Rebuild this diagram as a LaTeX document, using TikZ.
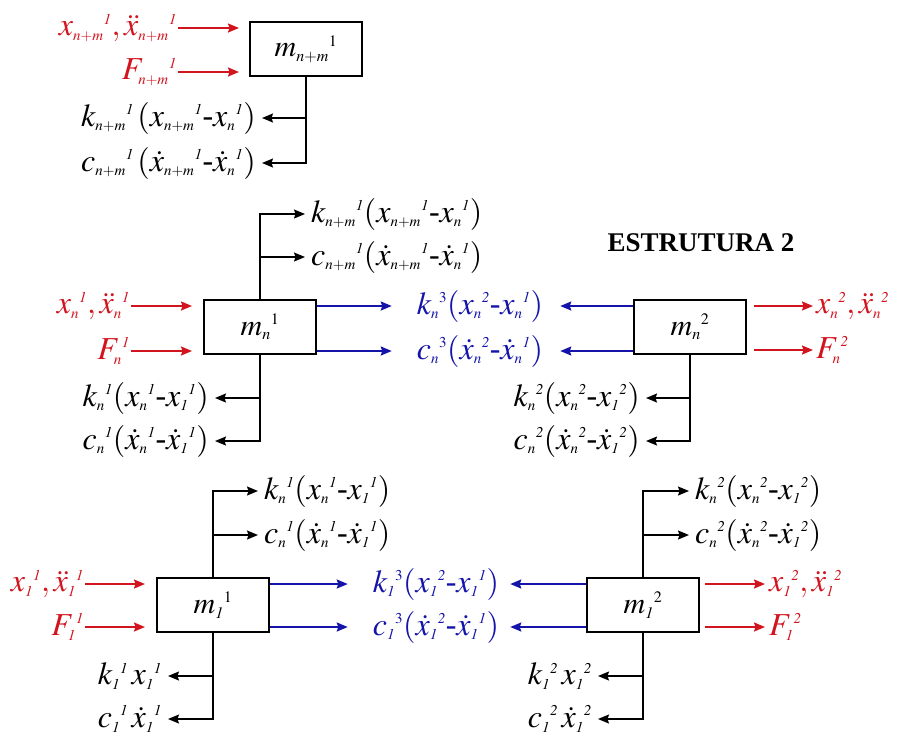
\documentclass[tikz,border=0pt]{standalone}
\usepackage{mathptmx}
\usepackage[no-math]{fontspec}
\setmainfont{Liberation Serif}
\usetikzlibrary{arrows.meta}
\DeclareMathSizes{32}{32}{15}{12}
\DeclareMathSizes{30}{30}{16}{12}
\definecolor{myred}{RGB}{210,20,30}
\definecolor{myblue}{RGB}{20,20,170}
\newcommand{\sx}[3]{#1_{#2}{}^{#3}}
\newcommand{\one}{\mathit{1}}
\newcommand{\two}{\mathit{2}}
\newcommand{\hy}{\mbox{-}}
\tikzset{
  mass/.style={draw, line width=2pt, minimum width=112pt, minimum height=54pt, inner sep=0pt, font=\fontsize{30}{36}\selectfont},
  lab/.style={inner sep=1pt, font=\fontsize{32}{36}\selectfont},
  rlab/.style={lab, text=myred},
  blab/.style={lab, text=myblue},
  tipk/.style={-{Stealth[length=11pt,width=9pt,inset=1.5pt]}},
  karr/.style={tipk, line width=1.4pt, shorten >=5pt},
  rarr/.style={tipk, draw=myred, line width=1.7pt},
  barr/.style={tipk, draw=myblue, line width=1.8pt},
  title/.style={font=\fontsize{27}{30}\selectfont\bfseries}
}
\begin{document}
\begin{tikzpicture}[x=1pt,y=-1pt]
\useasboundingbox (0,0) rectangle (901,740);
\fill[white] (0,0) rectangle (901,740);

% ---------- top group ----------
\node[mass] (mtop) at (306,49) {$\sx{m}{n+m}{1}$};
\node[rlab, anchor=east] (tx) at (178,28) {$\sx{x}{n+m}{\one},\sx{\ddot{x}}{n+m}{\one}$};
\node[rlab, anchor=east] (tF) at (178,72) {$\sx{F}{n+m}{\one}$};
\draw[rarr, shorten >=10pt] (tx.east) -- (tx.east -| mtop.west);
\draw[rarr, shorten >=10pt] (tF.east) -- (tF.east -| mtop.west);
\node[lab, anchor=east] (tk) at (257,118) {$\sx{k}{n+m}{\one}\mkern2mu(\sx{x}{n+m}{\one}\hy\sx{x}{n}{\one})$};
\node[lab, anchor=east] (tc) at (257,163) {$\sx{c}{n+m}{\one}\mkern2mu(\sx{\dot{x}}{n+m}{\one}\hy\sx{\dot{x}}{n}{\one})$};
\draw[karr] (mtop.south) |- (tc.east);
\draw[karr] (mtop.south |- tk.east) -- (tk.east);

% ---------- middle left ----------
\node[mass] (mn1) at (260,327) {$\sx{m}{n}{1}$};
\node[rlab, anchor=east] (nx1) at (131,306) {$\sx{x}{n}{\one},\sx{\ddot{x}}{n}{\one}$};
\node[rlab, anchor=east] (nF1) at (131,351) {$\sx{F}{n}{\one}$};
\draw[rarr, shorten >=11pt] (nx1.east) -- (nx1.east -| mn1.west);
\draw[rarr, shorten >=11pt] (nF1.east) -- (nF1.east -| mn1.west);
\node[lab, anchor=west] (nk1) at (310,214) {$\sx{k}{n+m}{\one}(\sx{x}{n+m}{\one}\hy\sx{x}{n}{\one})$};
\node[lab, anchor=west] (nc1) at (310,257) {$\sx{c}{n+m}{\one}(\sx{\dot{x}}{n+m}{\one}\hy\sx{\dot{x}}{n}{\one})$};
\draw[karr] (mn1.north) |- (nk1.west);
\draw[karr] (mn1.north |- nc1.west) -- (nc1.west);
\node[lab, anchor=east] (nbk1) at (210,398) {$\sx{k}{n}{\one}(\sx{x}{n}{\one}\hy\sx{x}{\one}{\one})$};
\node[lab, anchor=east] (nbc1) at (210,441) {$\sx{c}{n}{\one}(\sx{\dot{x}}{n}{\one}\hy\sx{\dot{x}}{\one}{\one})$};
\draw[karr] (mn1.south) |- (nbc1.east);
\draw[karr] (mn1.south |- nbk1.east) -- (nbk1.east);

% ---------- middle coupling ----------
\node[blab] (kn3) at (480,306) {$\sx{k}{n}{3}(\sx{x}{n}{\two}\hy\sx{x}{n}{\one})$};
\node[blab] (cn3) at (480,351) {$\sx{c}{n}{3}(\sx{\dot{x}}{n}{\two}\hy\sx{\dot{x}}{n}{\one})$};
\draw[barr, shorten >=24pt] (mn1.east |- kn3.west) -- (kn3.west);
\draw[barr, shorten >=24pt] (mn1.east |- cn3.west) -- (cn3.west);

% ---------- middle right ----------
\node[mass] (mn2) at (690,327) {$\sx{m}{n}{2}$};
\draw[barr, shorten >=16pt] (mn2.west |- kn3.east) -- (kn3.east);
\draw[barr, shorten >=16pt] (mn2.west |- cn3.east) -- (cn3.east);
\node[rlab, anchor=west] (nx2) at (815,306) {$\sx{x}{n}{\two},\sx{\ddot{x}}{n}{\two}$};
\node[rlab, anchor=west] (nF2) at (815,350) {$\sx{F}{n}{\two}$};
\draw[rarr, shorten <=7pt, shorten >=2pt] (mn2.east |- nx2.west) -- (nx2.west);
\draw[rarr, shorten <=7pt, shorten >=2pt] (mn2.east |- nF2.west) -- (nF2.west);
\node[lab, anchor=east] (nbk2) at (641,398) {$\sx{k}{n}{\two}(\sx{x}{n}{\two}\hy\sx{x}{\one}{\two})$};
\node[lab, anchor=east] (nbc2) at (641,441) {$\sx{c}{n}{\two}(\sx{\dot{x}}{n}{\two}\hy\sx{\dot{x}}{\one}{\two})$};
\draw[karr] (mn2.south) |- (nbc2.east);
\draw[karr] (mn2.south |- nbk2.east) -- (nbk2.east);

\node[title] (ttl) at (701,243) {ESTRUTURA 2};

% ---------- bottom left ----------
\node[mass] (m11) at (213,605) {$\sx{m}{\one}{1}$};
\node[rlab, anchor=east] (bx1) at (85,584) {$\sx{x}{\one}{\one},\sx{\ddot{x}}{\one}{\one}$};
\node[rlab, anchor=east] (bF1) at (85,627) {$\sx{F}{\one}{\one}$};
\draw[rarr, shorten >=11pt] (bx1.east) -- (bx1.east -| m11.west);
\draw[rarr, shorten >=11pt] (bF1.east) -- (bF1.east -| m11.west);
\node[lab, anchor=west] (bk1) at (263,491) {$\sx{k}{n}{\one}(\sx{x}{n}{\one}\hy\sx{x}{\one}{\one})$};
\node[lab, anchor=west] (bc1) at (263,535) {$\sx{c}{n}{\one}(\sx{\dot{x}}{n}{\one}\hy\sx{\dot{x}}{\one}{\one})$};
\draw[karr] (m11.north) |- (bk1.west);
\draw[karr] (m11.north |- bc1.west) -- (bc1.west);
\node[lab, anchor=east] (bbk1) at (163,676) {$\sx{k}{\one}{\one}\,\sx{x}{\one}{\one}$};
\node[lab, anchor=east] (bbc1) at (163,719) {$\sx{c}{\one}{\one}\,\sx{\dot{x}}{\one}{\one}$};
\draw[karr] (m11.south) |- (bbc1.east);
\draw[karr] (m11.south |- bbk1.east) -- (bbk1.east);

% ---------- bottom coupling ----------
\node[blab] (k13) at (436,584) {$\sx{k}{\one}{3}(\sx{x}{\one}{\two}\hy\sx{x}{\one}{\one})$};
\node[blab] (c13) at (436,627) {$\sx{c}{\one}{3}(\sx{\dot{x}}{\one}{\two}\hy\sx{\dot{x}}{\one}{\one})$};
\draw[barr, shorten >=24pt] (m11.east |- k13.west) -- (k13.west);
\draw[barr, shorten >=24pt] (m11.east |- c13.west) -- (c13.west);

% ---------- bottom right ----------
\node[mass] (m12) at (643,605) {$\sx{m}{\one}{2}$};
\draw[barr, shorten >=10pt] (m12.west |- k13.east) -- (k13.east);
\draw[barr, shorten >=10pt] (m12.west |- c13.east) -- (c13.east);
\node[rlab, anchor=west] (bx2) at (768,584) {$\sx{x}{\one}{\two},\sx{\ddot{x}}{\one}{\two}$};
\node[rlab, anchor=west] (bF2) at (768,627) {$\sx{F}{\one}{\two}$};
\draw[rarr, shorten <=5pt, shorten >=3pt] (m12.east |- bx2.west) -- (bx2.west);
\draw[rarr, shorten <=5pt, shorten >=3pt] (m12.east |- bF2.west) -- (bF2.west);
\node[lab, anchor=west] (bk2) at (694,491) {$\sx{k}{n}{\two}(\sx{x}{n}{\two}\hy\sx{x}{\one}{\two})$};
\node[lab, anchor=west] (bc2) at (694,535) {$\sx{c}{n}{\two}(\sx{\dot{x}}{n}{\two}\hy\sx{\dot{x}}{\one}{\two})$};
\draw[karr] (m12.north) |- (bk2.west);
\draw[karr] (m12.north |- bc2.west) -- (bc2.west);
\node[lab, anchor=east] (bbk2) at (593,676) {$\sx{k}{\one}{\two}\,\sx{x}{\one}{\two}$};
\node[lab, anchor=east] (bbc2) at (593,719) {$\sx{c}{\one}{\two}\,\sx{\dot{x}}{\one}{\two}$};
\draw[karr] (m12.south) |- (bbc2.east);
\draw[karr] (m12.south |- bbk2.east) -- (bbk2.east);
\end{tikzpicture}
\end{document}
